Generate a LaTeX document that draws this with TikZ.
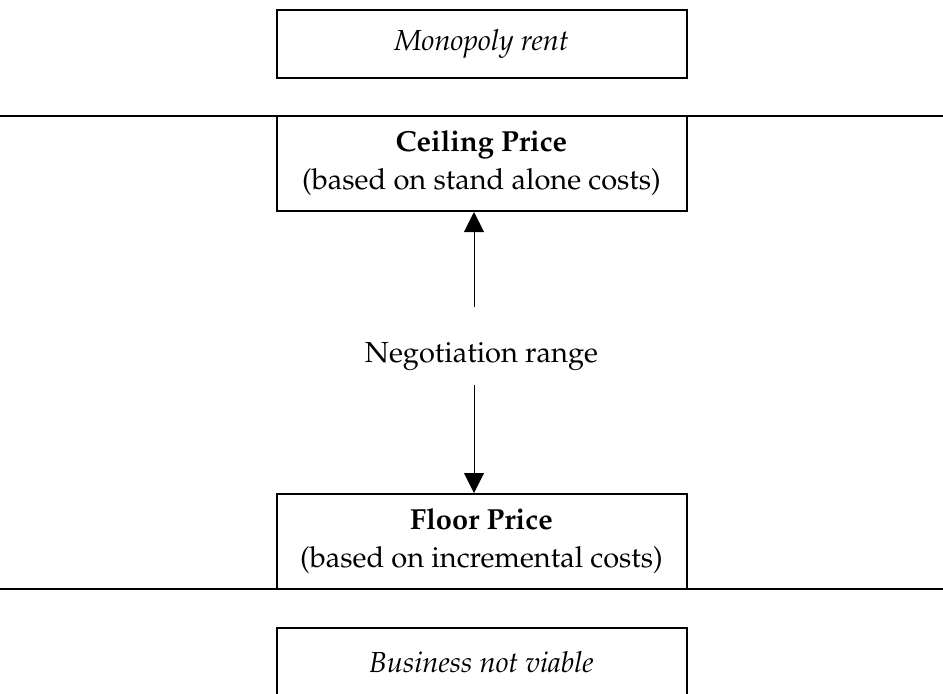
\documentclass[tikz,border=0pt]{standalone}
\usepackage[T1]{fontenc}
\usepackage{mathpazo}
\usepackage{tikz}
\usetikzlibrary{arrows.meta}
\usetikzlibrary{positioning}
\tikzset{>={Triangle[length=10pt,width=10pt]}}
\tikzstyle{box} = [rectangle, draw=black, line width=1pt, minimum width=205pt, align=center, inner sep=0pt]
\tikzstyle{bound} = [line width=1pt]

\begin{document}
\begin{tikzpicture}[x=0.5pt, y=-0.5pt, font=\fontsize{14.5}{19}\selectfont]
\clip (0,0) rectangle (943,693);
%\node [draw=none] at (481.5,0) {pricing range};
\node [box, minimum height=34pt] (rent) at (481.5, 44) {\textit{Monopoly rent}};
\node [box, minimum height=47.5pt] (ceiling) at (481.5, 163.5) {\textbf{Ceiling Price}\\(based on stand alone costs)};
\node [anchor=base] (nego) at (481.5, 362) {Negotiation range};
\node [box, minimum height=47.5pt] (floor) at (481.5, 541.5) {\textbf{Floor Price}\\(based on incremental costs)};
\node [box, minimum height=34pt] (viable) at (481.5, 662) {\textit{Business not viable}};
\coordinate (ceilL) at (0, 116);
\coordinate (ceilR) at (943, 116);
\coordinate (floorL) at (0, 589);
\coordinate (floorR) at (943, 589);
\coordinate (negtop) at (474, 307);
\coordinate (negbot) at (474, 385);
\draw [bound] (ceilL) to (ceilR);
\draw [bound] (floorL) to (floorR);
\draw [->, line width=0.5pt] (negtop) to (negtop |- ceiling.south);
\draw [->, line width=0.5pt] (negbot) to (negbot |- floor.north);
\end{tikzpicture}
\end{document}
